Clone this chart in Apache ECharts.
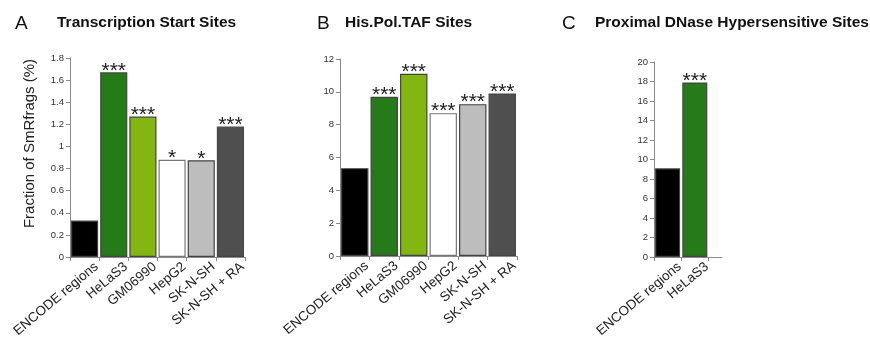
<!DOCTYPE html>
<html><head><meta charset="utf-8">
<script src="https://cdn.jsdelivr.net/npm/echarts@6/dist/echarts.min.js"></script>
<style>html,body{margin:0;padding:0;background:#fff}#c{width:870px;height:339px}</style>
</head><body><div id="c"></div>
<script>
// ---- data ----
const catsAB = ['ENCODE regions','HeLaS3','GM06990','HepG2','SK-N-SH','SK-N-SH + RA'];
const valsA = [0.33, 1.67, 1.27, 0.88, 0.875, 1.18];
const starsA = ['', '***', '***', '*', '*', '***'];
const valsB = [5.35, 9.7, 11.1, 8.7, 9.25, 9.9];
const starsB = ['', '***', '***', '***', '***', '***'];
const catsC = ['ENCODE regions','HeLaS3'];
const posC = [0.5, 1.5];
const valsC = [9.1, 17.9];
const starsC = ['', '***'];
const colors = ['#000000','#277a1a','#84b611','#ffffff','#bdbdbd','#4f4f4f'];
const ticksA = {min:0, max:1.8, interval:0.2};
const ticksB = {min:0, max:12, interval:2};
const ticksC = {min:0, max:20, interval:2};

const FONT = 'Liberation Sans, Arial, sans-serif';
const axisLineStyle = {color:'#8a8a8a', width:1};
const LDX = 12; // label offset to the right (Excel-style anchoring)

const plotGrids = [
  {left:70, top:58, width:175, height:199},
  {left:340, top:59, width:177, height:197},
  {left:654, top:62, width:68, height:195}
];

function yAxis(idx, t, name) {
  return {
    type:'value', gridIndex:idx, min:t.min, max:t.max, interval:t.interval,
    axisLine:{show:true, lineStyle:axisLineStyle},
    axisTick:{show:true, length:4, lineStyle:axisLineStyle},
    splitLine:{show:false},
    axisLabel:{fontFamily:FONT, fontSize:9.5, color:'#333', margin:6,
      formatter: v => String(Math.round(v*10)/10)},
    name: name || '', nameLocation:'middle', nameGap:33, nameRotate:90,
    nameTextStyle:{fontFamily:FONT, fontSize:15, color:'#222', padding:[0,0,0,28]}
  };
}
const xLabel = {fontFamily:FONT, fontSize:13.5, color:'#222', rotate:40, margin:8, interval:0};
function catX(idx, cats, labels) {
  return {
    type:'category', gridIndex:idx, data:cats,
    axisLine:{show:!labels, lineStyle:axisLineStyle},
    axisTick:{show:!labels, length:4, lineStyle:axisLineStyle},
    axisLabel:Object.assign({}, xLabel, {show:!!labels})
  };
}
function valX(idx, labels) {
  return {
    type:'value', gridIndex:idx, min:0, max:2.5,
    axisLine:{show:!labels, lineStyle:axisLineStyle},
    axisTick:{show:!labels, length:4, lineStyle:axisLineStyle, customValues:[0,1,2]},
    splitLine:{show:false},
    axisLabel:Object.assign({}, xLabel, {show:!!labels, customValues:posC,
      formatter: v => { const i = posC.indexOf(v); return i>=0 ? catsC[i] : ''; }})
  };
}
function hiddenY(idx) { return {type:'value', gridIndex:idx, show:false, splitLine:{show:false}}; }

function barData(vals, stars, xs) {
  return vals.map((v,i) => ({
    value: xs ? [xs[i], v] : v,
    itemStyle:{color:colors[i], borderColor: i===3 ? '#777' : '#444', borderWidth:1.2},
    label:{show: stars[i] !== '', formatter: stars[i]}
  }));
}
const starLabel = {show:true, position:'top', distance:-9, fontFamily:FONT, fontSize:21, color:'#222'};

const grids = plotGrids.concat(plotGrids.map(g => Object.assign({}, g, {left:g.left + LDX})))
  .map(g => Object.assign({outerBoundsMode:'none', containLabel:false}, g));

const option = {
  animation:false,
  backgroundColor:'#fff',
  title:[
    {text:'A', left:10, top:9, textStyle:{fontFamily:FONT, fontSize:19, fontWeight:'normal', color:'#111'}},
    {text:'Transcription Start Sites', left:52, top:10, textStyle:{fontFamily:FONT, fontSize:15.5, fontWeight:'bold', color:'#111'}},
    {text:'B', left:312, top:9, textStyle:{fontFamily:FONT, fontSize:19, fontWeight:'normal', color:'#111'}},
    {text:'His.Pol.TAF Sites', left:340, top:10, textStyle:{fontFamily:FONT, fontSize:15.5, fontWeight:'bold', color:'#111'}},
    {text:'C', left:557, top:9, textStyle:{fontFamily:FONT, fontSize:19, fontWeight:'normal', color:'#111'}},
    {text:'Proximal DNase Hypersensitive Sites', left:590, top:10, textStyle:{fontFamily:FONT, fontSize:15.5, fontWeight:'bold', color:'#111'}}
  ],
  grid: grids,
  xAxis:[
    catX(0, catsAB, false),
    catX(1, catsAB, false),
    valX(2, false),
    catX(3, catsAB, true),
    catX(4, catsAB, true),
    valX(5, true)
  ],
  yAxis:[
    yAxis(0, ticksA, 'Fraction of SmRfrags (%)'),
    yAxis(1, ticksB),
    yAxis(2, ticksC),
    hiddenY(3), hiddenY(4), hiddenY(5)
  ],
  series:[
    {type:'bar', xAxisIndex:0, yAxisIndex:0, barCategoryGap:'7%', data:barData(valsA, starsA), label:starLabel},
    {type:'bar', xAxisIndex:1, yAxisIndex:1, barCategoryGap:'7%', data:barData(valsB, starsB), label:starLabel},
    {type:'bar', xAxisIndex:2, yAxisIndex:2, barWidth:25, data:barData(valsC, starsC, posC), label:starLabel}
  ]
};
const chart = echarts.init(document.getElementById('c'), null, {renderer:'canvas'});
chart.setOption(option);
</script></body></html>
